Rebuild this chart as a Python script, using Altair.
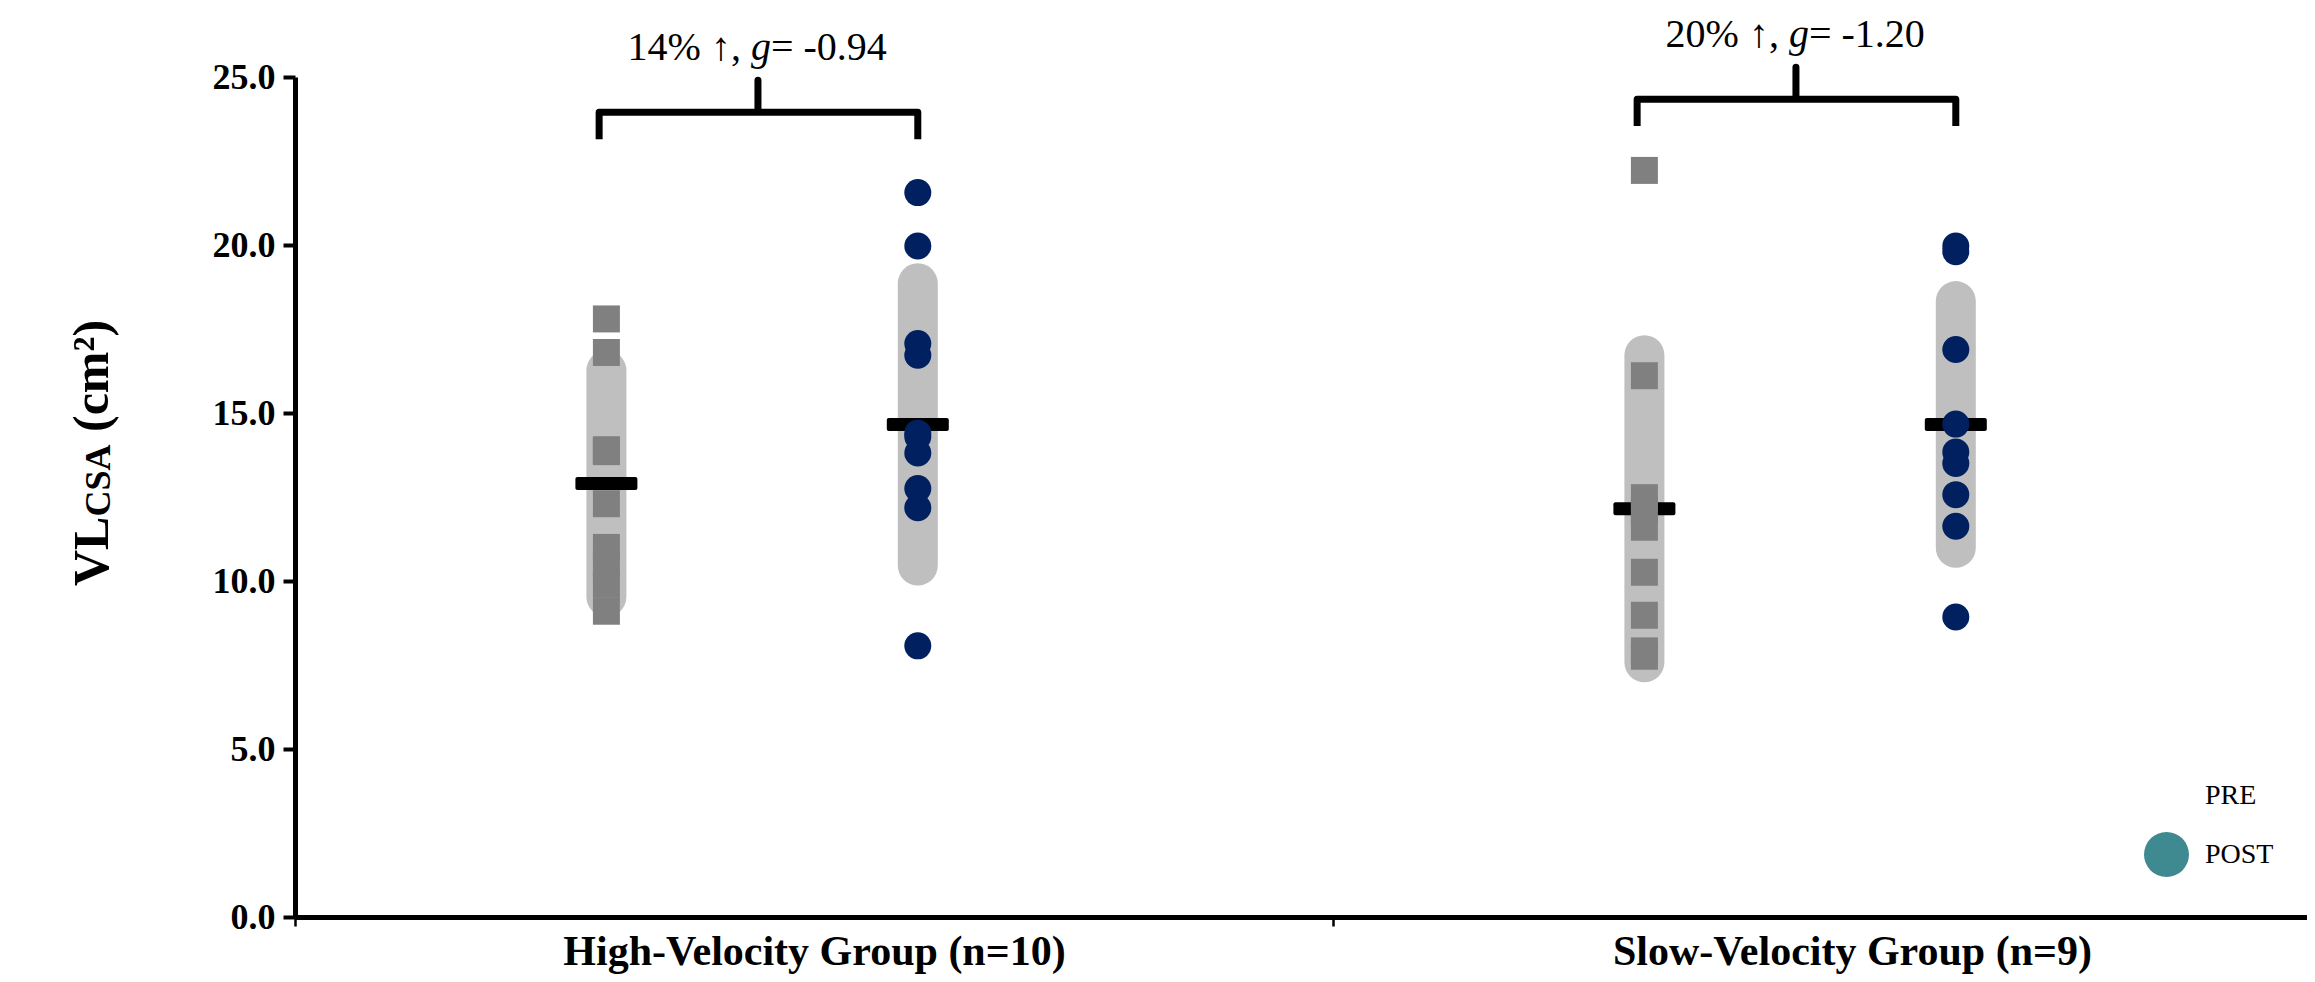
import altair as alt
import pandas as pd

# ---------------- data ----------------
GROUPS = ["High-Velocity Group (n=10)", "Slow-Velocity Group (n=9)"]
TIMES = ["PRE", "POST"]

HIGH_PRE = [17.8, 16.8, 13.9, 13.9, 13.85, 12.3, 11.0, 10.5, 9.9, 9.1]
HIGH_POST = [21.56, 19.97, 17.07, 16.72, 14.4, 14.29, 13.81, 12.75, 12.18, 8.07]
SLOW_PRE = [22.22, 16.11, 12.48, 12.1, 11.6, 10.26, 8.98, 7.92, 7.76]
SLOW_POST = [19.97, 19.8, 16.89, 14.67, 13.84, 13.5, 12.57, 11.63, 8.93]

MEAN_PRE = [12.9, 12.15]
MEAN_POST = [14.66, 14.66]
SD_PRE = [3.37, 4.57]
SD_POST = [4.2, 3.67]

CHANGE_TEXT = ["14% ↑,", "20% ↑,"]
G_SYMBOL = "g"
G_TEXT = ["= -0.94", "= -1.20"]

Y_TICKS = [0, 5, 10, 15, 20, 25]
Y_TITLE = ["VL", "CSA", "(cm²)"]

# ---------------- layout constants ----------------
W, H = 2012, 840
UNIT = 1038.0
X_MAX = W / UNIT
PRE_OFF, POST_OFF = 0.3, 0.6
BRACE_X = (0.293, 0.60)
BRACE_MID = 0.446
BRACE_LEVEL = [23.95, 24.34]
TEXT_LEVEL = [25.5, 25.88]
BRACE_DROP, BRACE_TIP = 0.8, 0.95

FONT = "Liberation Serif"

# ---------------- tables ----------------
rows = []
for gi, (pre, post) in enumerate([(HIGH_PRE, HIGH_POST), (SLOW_PRE, SLOW_POST)]):
    for v in pre:
        rows.append({"group": GROUPS[gi], "gi": gi, "time": "PRE", "value": v})
    for v in post:
        rows.append({"group": GROUPS[gi], "gi": gi, "time": "POST", "value": v})
points = pd.DataFrame(rows)

summ = []
for gi in range(2):
    summ.append({"gi": gi, "time": "PRE", "mean": MEAN_PRE[gi], "sd": SD_PRE[gi]})
    summ.append({"gi": gi, "time": "POST", "mean": MEAN_POST[gi], "sd": SD_POST[gi]})
summary = pd.DataFrame(summ)

brace_rows = []
for gi, lvl in enumerate(BRACE_LEVEL):
    xa, xm, xb = gi + BRACE_X[0], gi + BRACE_MID, gi + BRACE_X[1]
    pts = [(xa, lvl - BRACE_DROP), (xa, lvl), (xm, lvl), (xm, lvl + BRACE_TIP),
           (xm, lvl), (xb, lvl), (xb, lvl - BRACE_DROP)]
    for k, (bx, by) in enumerate(pts):
        brace_rows.append({"gi": gi, "k": k, "bx": bx, "by": by})
braces = pd.DataFrame(brace_rows)

annot = pd.DataFrame({
    "gi": [0, 1],
    "change": CHANGE_TEXT,
    "gtext": G_TEXT,
    "level": TEXT_LEVEL,
})

xpos_expr = f"datum.gi + (datum.time == 'PRE' ? {PRE_OFF} : {POST_OFF})"

x_scale = alt.Scale(domain=[0, X_MAX], nice=False, zero=False)
y_scale = alt.Scale(domain=[0, 25], nice=False, zero=True)

label_expr = (f"datum.value == 0.5 ? '{GROUPS[0]}' : "
              f"(datum.value == 1.5 ? '{GROUPS[1]}' : '')")

x_axis = alt.Axis(
    values=[0, 0.5, 1, 1.5], labelExpr=label_expr, title=None, grid=False,
    tickOpacity=alt.condition("datum.value == 0 || datum.value == 1", alt.value(1), alt.value(0)),
    labelFont=FONT, labelFontWeight="bold", labelFontSize=42, labelColor="black",
    labelPadding=5, tickSize=9, tickWidth=2.5, tickColor="black", labelLimit=1000,
    domainColor="black", domainWidth=5, labelFlush=False, labelOverlap=False, labelBound=False,
)
y_axis = alt.Axis(
    values=Y_TICKS, format=".1f", title=None, grid=False,
    labelFont=FONT, labelFontWeight="bold", labelFontSize=36, labelColor="black",
    labelPadding=8, tickSize=12, tickWidth=4, tickColor="black",
    domainColor="black", domainWidth=5,
)

def X(field="xpos"):
    return alt.X(f"{field}:Q", scale=x_scale, axis=x_axis)

def Y(field):
    return alt.Y(f"{field}:Q", scale=y_scale, axis=y_axis)

base_sum = alt.Chart(summary).transform_calculate(
    xpos=xpos_expr,
    lo="datum.mean - datum.sd",
    hi="datum.mean + datum.sd",
)

sd_bars = base_sum.mark_rule(color="#bfbfbf", strokeWidth=40, strokeCap="round").encode(
    x=X(), y=Y("lo"), y2="hi:Q"
)
mean_ticks = base_sum.mark_tick(orient="horizontal", size=62, thickness=13,
                                color="black", opacity=1, cornerRadius=2).encode(
    x=X(), y=Y("mean")
)

base_pts = alt.Chart(points).transform_calculate(xpos=xpos_expr)

squares = base_pts.transform_filter(alt.datum.time == "PRE").mark_square(
    size=729, color="#808080", opacity=1
).encode(x=X(), y=Y("value"))

circles = base_pts.transform_filter(alt.datum.time == "POST").mark_circle(
    size=729, color="#002060", opacity=1
).encode(x=X(), y=Y("value"))

legend_layer = base_pts.mark_point(filled=True, opacity=0, size=10).encode(
    x=X(), y=Y("value"),
    color=alt.Color("time:N", scale=alt.Scale(domain=TIMES, range=["rgba(0,0,0,0)", "#3e8a90"]),
                    legend=alt.Legend(
                        title=None, orient="none", legendX=1849, legendY=696,
                        symbolType="circle", symbolSize=2025, symbolOpacity=1,
                        symbolStrokeWidth=0, labelFont=FONT, labelFontSize=28,
                        labelColor="black", labelOffset=16, rowPadding=14, padding=0,
                    )),
)

brace_lines = alt.Chart(braces).mark_line(
    color="black", strokeWidth=7, strokeJoin="round", strokeCap="butt"
).encode(
    x=X("bx"), y=Y("by"), detail="gi:N", order="k:Q"
)

base_ann = alt.Chart(annot).transform_calculate(xa=f"datum.gi + {BRACE_MID}")
ann1 = base_ann.mark_text(font=FONT, fontSize=40, color="black", align="right",
                          baseline="alphabetic", dx=-17).encode(
    x=X("xa"), y=Y("level"), text="change:N")
ann2 = base_ann.mark_text(font=FONT, fontSize=40, color="black", align="left",
                          baseline="alphabetic", dx=-7, fontStyle="italic").encode(
    x=X("xa"), y=Y("level"), text=alt.value(G_SYMBOL))
ann3 = base_ann.mark_text(font=FONT, fontSize=40, color="black", align="left",
                          baseline="alphabetic", dx=13).encode(
    x=X("xa"), y=Y("level"), text="gtext:N")

one = alt.Data(values=[{"a": 1}])
t1 = alt.Chart(one).mark_text(font=FONT, fontSize=50, fontWeight="bold", angle=270,
                              align="left", baseline="alphabetic", color="black").encode(
    x=alt.value(-187), y=alt.value(509), text=alt.value(Y_TITLE[0]))
t2 = alt.Chart(one).mark_text(font=FONT, fontSize=36, fontWeight="bold", angle=270,
                              align="left", baseline="alphabetic", color="black").encode(
    x=alt.value(-185), y=alt.value(439.5), text=alt.value(Y_TITLE[1]))
t3 = alt.Chart(one).mark_text(font=FONT, fontSize=50, fontWeight="bold", angle=270,
                              align="left", baseline="alphabetic", color="black").encode(
    x=alt.value(-187), y=alt.value(355), text=alt.value(Y_TITLE[2]))

chart = alt.layer(
    sd_bars, mean_ticks, squares, circles, legend_layer, brace_lines,
    ann1, ann2, ann3, t1, t2, t3
).properties(
    width=W, height=H,
    autosize=alt.AutoSizeParams(type="none"),
    padding={"left": 287, "top": 69, "right": 0, "bottom": 57},
    background="white",
).configure_view(stroke=None)

chart.save("out.html", embed_options={"renderer": "svg", "actions": False})
